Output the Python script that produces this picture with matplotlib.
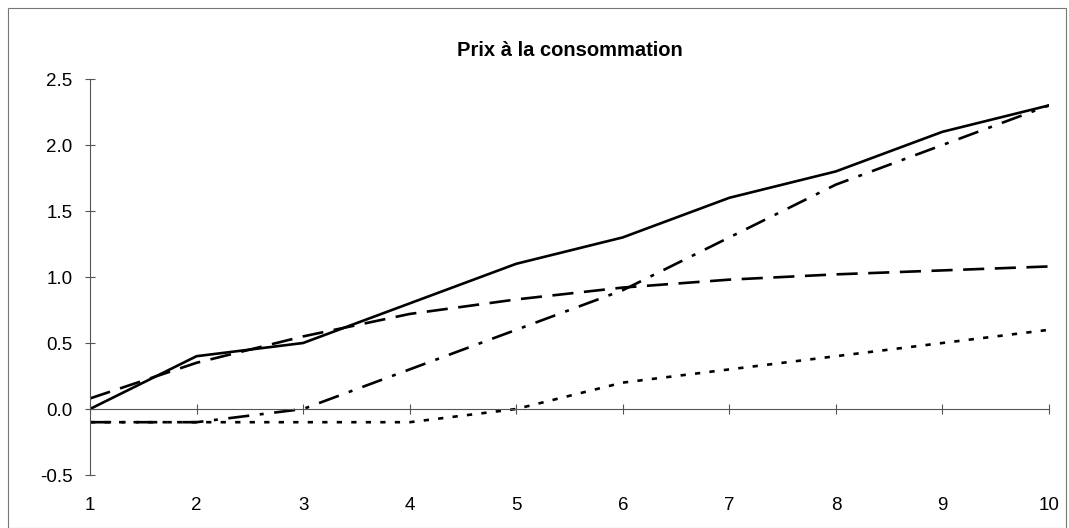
import matplotlib
matplotlib.use('Agg')
import matplotlib.pyplot as plt
import matplotlib.transforms as mtransforms
from matplotlib.patches import Rectangle

plt.rcParams['font.family'] = ['Liberation Sans', 'DejaVu Sans']

periods = [1, 2, 3, 4, 5, 6, 7, 8, 9, 10]
serie_pleine = [0.0, 0.4, 0.5, 0.8, 1.1, 1.3, 1.6, 1.8, 2.1, 2.3]
serie_tirets = [0.08, 0.35, 0.55, 0.72, 0.83, 0.92, 0.98, 1.02, 1.05, 1.08]
serie_mixte = [-0.1, -0.1, 0.0, 0.3, 0.6, 0.9, 1.3, 1.7, 2.0, 2.3]
serie_points = [-0.1, -0.1, -0.1, -0.1, 0.0, 0.2, 0.3, 0.4, 0.5, 0.6]
yticks = [-0.5, 0.0, 0.5, 1.0, 1.5, 2.0, 2.5]

W, H = 1069, 528
fig = plt.figure(figsize=(W / 100, H / 100), dpi=100)
ax = fig.add_axes([90 / W, (H - 475) / H, (1049 - 90) / W, (475 - 79) / H])

# cadre autour du graphique
fig.patches.append(Rectangle((8 / W, 0), (1066 - 8) / W, (H - 8) / H, transform=fig.transFigure,
                             fill=False, edgecolor='#777777', linewidth=0.8))

ax.plot(periods, serie_pleine, '-', color='black', linewidth=1.9)
ax.plot(periods, serie_tirets, color='black', linewidth=1.9, dashes=(8, 4))
ax.plot(periods, serie_mixte, color='black', linewidth=1.9, dashes=(8, 4, 1.5, 4))
ax.plot(periods, serie_points, color='black', linewidth=1.9, dashes=(2, 3.5))

ax.set_xlim(1, 10)
ax.set_ylim(-0.5, 2.5)

for s in ['top', 'right']:
    ax.spines[s].set_visible(False)
ax.spines['left'].set_color('#555555')
ax.spines['left'].set_linewidth(0.8)
ax.spines['bottom'].set_position(('data', 0))
ax.spines['bottom'].set_color('#555555')
ax.spines['bottom'].set_linewidth(0.8)

ax.set_yticks(yticks)
ax.set_yticklabels(['%.1f' % v for v in yticks])
ax.set_xticks(periods)
ax.tick_params(axis='both', direction='inout', length=7, width=0.8, color='#555555', labelsize=13.5)
ax.tick_params(axis='x', labelbottom=False)
ax.tick_params(axis='y', pad=9)

trans = mtransforms.blended_transform_factory(ax.transData, ax.transAxes)
for p in periods:
    ax.text(p, -0.076, str(p), transform=trans, ha='center', va='center', fontsize=13.5)

fig.text(570 / W, 1 - 50 / H, 'Prix à la consommation', ha='center', va='center',
         fontsize=14.5, fontweight='bold')

fig.savefig('out.png', dpi=100)
